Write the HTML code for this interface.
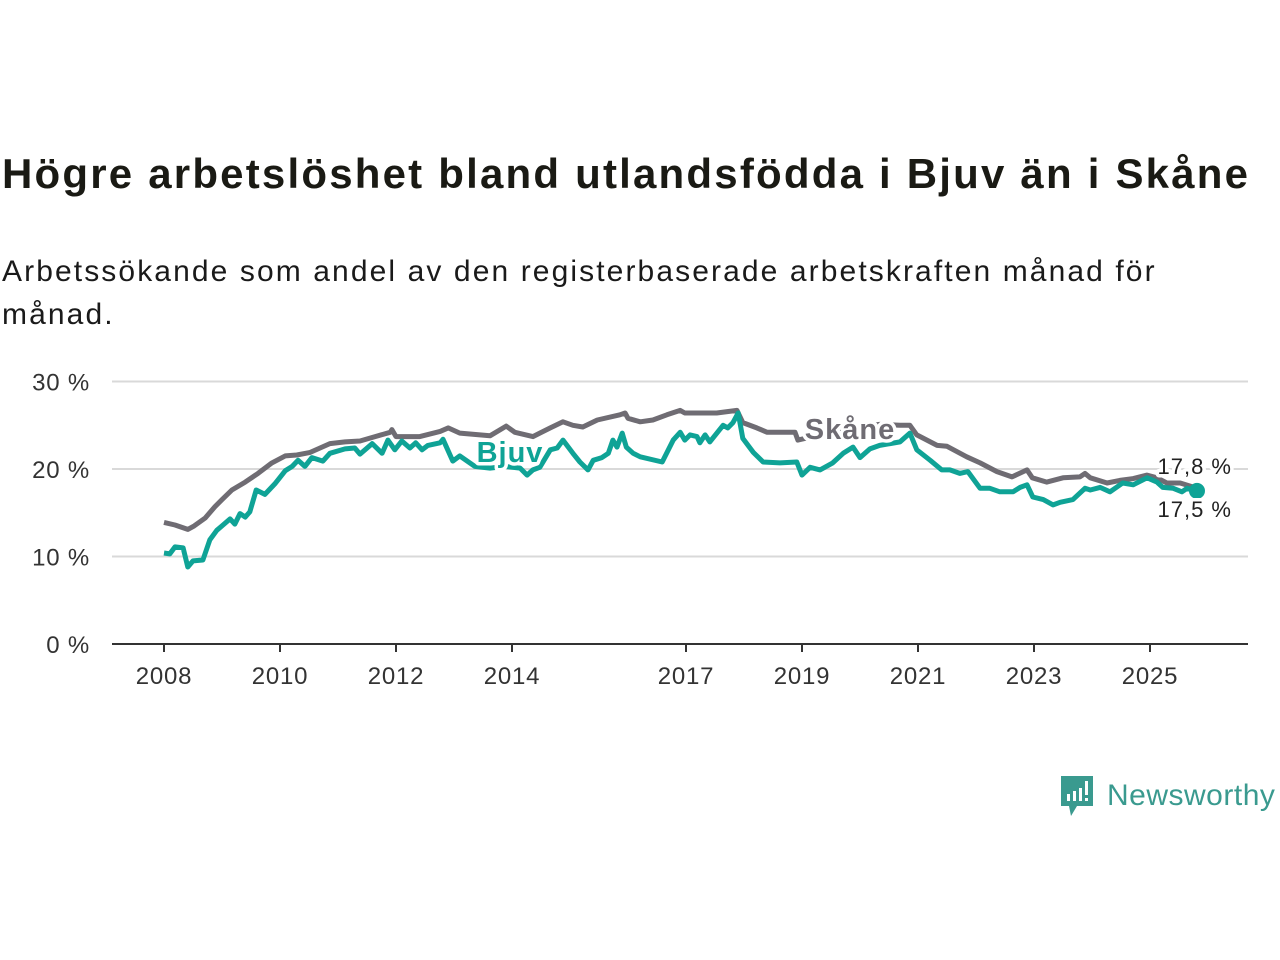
<!DOCTYPE html>
<html><head><meta charset="utf-8"><style>
body{margin:0;width:1280px;height:960px;background:#fff;font-family:"Liberation Sans","DejaVu Sans",sans-serif;position:relative;overflow:hidden}
#title{position:absolute;left:2px;top:150px;font-size:42px;letter-spacing:2.2px;font-weight:bold;color:#1a1a14;margin:0;white-space:nowrap}
#sub{position:absolute;left:2px;top:250px;font-size:30px;letter-spacing:2.1px;line-height:43px;color:#1a1a1a;width:1200px}
svg{position:absolute;left:0;top:0}
</style></head><body>
<h1 id="title">Högre arbetslöshet bland utlandsfödda i Bjuv än i Skåne</h1>
<div id="sub">Arbetssökande som andel av den registerbaserade arbetskraften månad för månad.</div>
<svg id="chart" width="1280" height="960"></svg>
<div style="position:absolute;left:1059px;top:774px;display:flex;align-items:center">
<svg width="36" height="44" style="position:static"><path d="M2 2 H34 V32 H18 L12 42 L10 32 H2 Z" fill="#3a9a8f"/><rect x="8" y="20" width="3" height="7" fill="#fff"/><rect x="14" y="17" width="3" height="10" fill="#fff"/><rect x="20" y="14" width="3" height="13" fill="#fff"/><rect x="26" y="7" width="3" height="14" fill="#fff"/><rect x="26" y="24" width="3" height="3" fill="#fff"/></svg>
<span style="font-size:30px;letter-spacing:0.5px;color:#3a9a8f;margin-left:12px">Newsworthy</span></div>
<script>
const yTicks=[0,10,20,30];
const yTickLabels=["0 %","10 %","20 %","30 %"];
const xTicks=[2008,2010,2012,2014,2017,2019,2021,2023,2025];
const skaneDates=[2008.00,2008.19,2008.41,2008.52,2008.71,2008.88,2009.00,2009.17,2009.40,2009.62,2009.86,2010.09,2010.29,2010.52,2010.86,2011.12,2011.38,2011.64,2011.90,2011.93,2012.00,2012.41,2012.76,2012.90,2013.10,2013.62,2013.90,2014.05,2014.36,2014.48,2014.66,2014.88,2015.05,2015.22,2015.47,2015.86,2015.95,2016.00,2016.21,2016.43,2016.67,2016.90,2016.98,2017.53,2017.88,2017.98,2018.22,2018.40,2018.62,2018.88,2018.93,2019.83,2020.34,2020.69,2020.86,2020.98,2021.33,2021.50,2021.84,2022.07,2022.36,2022.62,2022.88,2022.97,2023.22,2023.50,2023.79,2023.88,2023.97,2024.26,2024.48,2024.71,2024.95,2025.12,2025.29,2025.52,2025.81];
const skaneValues=[13.9,13.6,13.1,13.5,14.4,15.7,16.5,17.6,18.5,19.5,20.7,21.5,21.6,21.9,22.9,23.1,23.2,23.7,24.2,24.5,23.7,23.7,24.3,24.7,24.1,23.8,24.9,24.2,23.7,24.1,24.7,25.4,25.0,24.8,25.6,26.2,26.4,25.8,25.4,25.6,26.2,26.7,26.4,26.4,26.7,25.3,24.7,24.2,24.2,24.2,23.3,24.7,25.1,25.0,25.0,23.9,22.7,22.6,21.4,20.7,19.7,19.1,19.9,19.0,18.5,19.0,19.1,19.5,19.0,18.4,18.7,18.9,19.3,19.0,18.4,18.4,17.8];
const bjuvDates=[2008.00,2008.10,2008.19,2008.33,2008.41,2008.50,2008.67,2008.79,2008.91,2009.00,2009.14,2009.22,2009.31,2009.40,2009.48,2009.59,2009.74,2009.91,2010.09,2010.21,2010.31,2010.43,2010.55,2010.74,2010.86,2011.12,2011.29,2011.38,2011.59,2011.76,2011.86,2011.98,2012.10,2012.24,2012.34,2012.45,2012.55,2012.76,2012.81,2012.98,2013.10,2013.36,2013.62,2013.88,2014.14,2014.26,2014.36,2014.48,2014.66,2014.78,2014.88,2015.05,2015.17,2015.31,2015.40,2015.55,2015.66,2015.74,2015.81,2015.90,2015.97,2016.09,2016.21,2016.59,2016.78,2016.90,2016.98,2017.07,2017.19,2017.24,2017.33,2017.41,2017.64,2017.72,2017.81,2017.90,2017.98,2018.16,2018.33,2018.62,2018.91,2019.00,2019.14,2019.31,2019.53,2019.71,2019.88,2020.00,2020.17,2020.34,2020.69,2020.86,2020.98,2021.21,2021.41,2021.55,2021.72,2021.86,2022.07,2022.24,2022.41,2022.64,2022.76,2022.88,2022.98,2023.16,2023.33,2023.45,2023.67,2023.88,2023.97,2024.14,2024.31,2024.53,2024.71,2024.95,2025.12,2025.22,2025.40,2025.55,2025.64,2025.81];
const bjuvValues=[10.4,10.3,11.1,11.0,8.8,9.5,9.6,11.9,13.0,13.5,14.3,13.7,14.9,14.5,15.1,17.6,17.1,18.3,19.8,20.3,21.0,20.3,21.3,20.9,21.8,22.3,22.4,21.7,22.9,21.8,23.3,22.2,23.2,22.4,23.0,22.2,22.7,23.0,23.4,20.9,21.5,20.3,20.1,20.3,20.1,19.3,19.9,20.2,22.2,22.4,23.3,21.8,20.8,19.9,21.0,21.3,21.8,23.3,22.5,24.1,22.5,21.8,21.4,20.8,23.3,24.2,23.3,23.9,23.7,23.0,23.9,23.1,25.0,24.7,25.3,26.4,23.5,21.9,20.8,20.7,20.8,19.3,20.2,19.9,20.7,21.8,22.5,21.3,22.3,22.7,23.1,24.1,22.2,21.0,19.9,19.9,19.5,19.7,17.8,17.8,17.4,17.4,17.9,18.2,16.8,16.5,15.9,16.2,16.5,17.8,17.6,17.9,17.4,18.4,18.2,19.0,18.5,17.9,17.8,17.4,17.8,17.5];
const NS="http://www.w3.org/2000/svg";
const svg=document.getElementById('chart');
const X=y=>164+(y-2008)*58;
const Y=v=>644-v*8.75;
function mk(t,a){const e=document.createElementNS(NS,t);for(const k in a)e.setAttribute(k,a[k]);svg.appendChild(e);return e;}
yTicks.forEach((t,i)=>{
 if(t>0){const g=mk('line',{x1:112,x2:1248,y1:Y(t),y2:Y(t),stroke:'#d9d9d9','stroke-width':2});
 
 }
 const l=mk('text',{x:90,y:Y(t)+9,'text-anchor':'end','font-size':24,'letter-spacing':0.8,fill:'#333'});l.textContent=yTickLabels[i];
 
 
});
const ax=mk('line',{x1:112,x2:1248,y1:644,y2:644,stroke:'#333','stroke-width':2});


xTicks.forEach(t=>{
 const k=mk('line',{x1:X(t),x2:X(t),y1:644,y2:652,stroke:'#333','stroke-width':2});
 
 
 const l=mk('text',{x:X(t),y:684,'text-anchor':'middle','font-size':24,'letter-spacing':0.8,fill:'#333'});l.textContent=t;
 
 
});
function line(d,v,c,name){
 const p=mk('path',{d:d.map((t,i)=>(i?'L':'M')+X(t).toFixed(1)+' '+Y(v[i]).toFixed(1)).join(''),fill:'none',stroke:c,'stroke-width':5,'stroke-linejoin':'round'});
 
 
}
const gray='#6f6c73',teal='#0fa396';
line(skaneDates,skaneValues,gray,'skane-line');
line(bjuvDates,bjuvValues,teal,'bjuv-line');
function lab(x,y,txt,c,name,size,bold,anchor){
 const t=mk('text',{x:x,y:y,'text-anchor':anchor,'font-size':size,'font-weight':bold?'bold':'normal','letter-spacing':1,fill:c,stroke:'#fff','stroke-width':7,'paint-order':'stroke','stroke-linejoin':'round'});
 t.textContent=txt;
 
 
}
lab(510,462,'Bjuv',teal,'bjuv-label',29,true,'middle');
lab(850,439,'Skåne',gray,'skane-label',29,true,'middle');
const dot=mk('circle',{cx:X(bjuvDates[bjuvDates.length-1]),cy:Y(bjuvValues[bjuvValues.length-1]),r:8,fill:teal});


lab(1232,474,'17,8 %','#222','skane-end-value',22,false,'end');
lab(1232,517,'17,5 %','#222','bjuv-end-value',22,false,'end');
</script>
</body></html>
